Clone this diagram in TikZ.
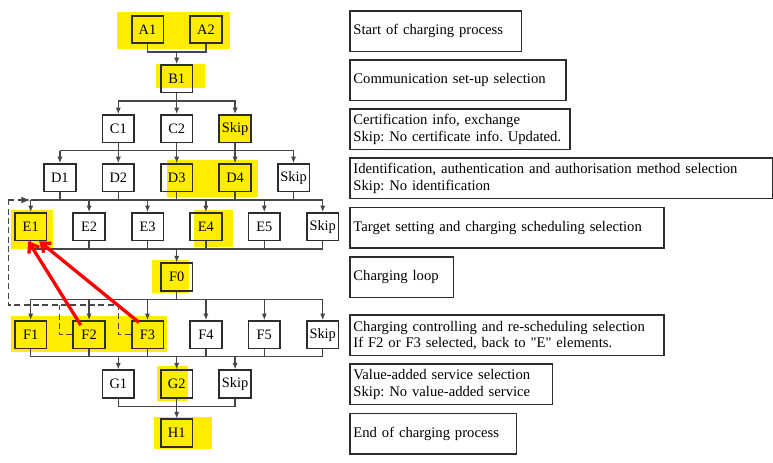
\documentclass[tikz,border=0pt]{standalone}
\usepackage{fontspec}
\setmainfont{Liberation Serif}
\usepackage{xcolor}
\usetikzlibrary{arrows.meta, calc, positioning}
\frenchspacing

\definecolor{hlyellow}{RGB}{255,237,0}
\definecolor{boxgray}{RGB}{45,45,45}
\definecolor{linegray}{RGB}{70,70,70}
\definecolor{jumpred}{RGB}{255,0,0}

\begin{document}
\begin{tikzpicture}[x=0.75pt, y=-0.75pt,
        stage/.style={draw=boxgray, line width=1.3pt, minimum width=23.8pt, minimum height=20.5pt, inner sep=0pt, font=\fontsize{10.8}{12}\selectfont},
        note/.style={draw=boxgray, line width=1.2pt, anchor=north west, minimum height=30.4pt, inner xsep=2.5pt, inner ysep=0pt, align=left, text width=#1, font=\fontsize{11}{12.4}\selectfont},
        hl/.style={fill=hlyellow},
        bus/.style={draw=linegray, line width=1pt},
        arr/.style={bus, -{Latex[length=5pt, width=4pt]}},
        back/.style={draw=linegray, line width=1pt, dash pattern=on 4.5pt off 2.5pt},
        jump/.style={draw=jumpred, line width=2.5pt, -{Straight Barb[length=6pt, width=9pt]}}]
    \useasboundingbox (0,0) rectangle (773,462);
    % highlights
    \fill[hl] (117,12) rectangle (230,48.7);
    \fill[hl] (156,64) rectangle (204.7,87.7);
    \fill[hl] (218.5,115) rectangle (251,142.5);
    \fill[hl] (166.7,160) rectangle (257.7,196.7);
    \fill[hl] (11,210) rectangle (53.3,249.3);
    \fill[hl] (194.3,210) rectangle (232.7,246.7);
    \fill[hl] (151.7,260) rectangle (189,292.7);
    \fill[hl] (11,316) rectangle (166.7,351.7);
    \fill[hl] (157.3,366) rectangle (187.7,401);
    \fill[hl] (154,417) rectangle (211.7,449);
    % stages
    \node[stage] (A1) at (147.5,29.5) {A1};
    \node[stage] (A2) at (206,29.5) {A2};
    \node[stage] (B1) at (176.7,78.8) {B1};
    \foreach \n/\x/\t in {C1/118.3/C1, C2/176.7/C2, C3/235.1/Skip}
        \node[stage] (\n) at (\x,128.7) {\t};
    \foreach \n/\x/\t in {D1/59.9/D1, D2/118.3/D2, D3/176.7/D3, D4/235.1/D4, D5/293.5/Skip}
        \node[stage] (\n) at (\x,177.8) {\t};
    \foreach \n/\x/\t in {E1/30.7/E1, E2/89.1/E2, E3/147.5/E3, E4/205.9/E4, E5/264.3/E5, E6/322.7/Skip}
        \node[stage] (\n) at (\x,226.7) {\t};
    \node[stage] (F0) at (176.7,277) {F0};
    \foreach \n/\x/\t in {F1/30.7/F1, F2/89.1/F2, F3/147.5/F3, F4/205.9/F4, F5/264.3/F5, F6/322.7/Skip}
        \node[stage] (\n) at (\x,334.7) {\t};
    \foreach \n/\x/\t in {G1/118.3/G1, G2/176.7/G2, G3/235.1/Skip}
        \node[stage] (\n) at (\x,384) {\t};
    \node[stage] (H1) at (176.7,433) {H1};
    % junctions
    \coordinate (ab) at (176.7,52);
    \coordinate (bc) at (176.7,101);
    \coordinate (cd) at (176.7,150.7);
    \coordinate (de) at (176.7,200);
    \coordinate (ef) at (176.7,249);
    \coordinate (ff) at (176.7,299.3);
    \coordinate (fg) at (176.7,356.7);
    \coordinate (gh) at (176.7,406.7);
    % A -> B -> C
    \draw[bus] (A1) |- (ab) -| (A2);
    \draw[arr] (ab) -- (B1);
    \draw[bus] (B1) -- (bc);
    \foreach \n in {C1,C2,C3}
        \draw[arr] (bc) -| (\n);
    % C -> D
    \foreach \n in {C1,C2,C3}
        \draw[bus] (\n) -- (\n |- cd);
    \draw[bus] (D1 |- cd) -- (D5 |- cd);
    \foreach \n in {D1,D2,D3,D4,D5}
        \draw[arr] (\n |- cd) -- (\n);
    % D -> E
    \foreach \n in {D1,D2,D3,D4,D5}
        \draw[bus] (\n) -- (\n |- de);
    \draw[bus] (E1 |- de) -- (E6 |- de);
    \foreach \n in {E1,E2,E3,E4,E5,E6}
        \draw[arr] (\n |- de) -- (\n);
    % E -> F0 -> F
    \foreach \n in {E1,E2,E3,E4,E5,E6}
        \draw[bus] (\n) -- (\n |- ef);
    \draw[bus] (E1 |- ef) -- (E6 |- ef);
    \draw[arr] (ef) -- (F0);
    \draw[bus] (F0) -- (ff);
    \draw[bus] (F1 |- ff) -- (F6 |- ff);
    \foreach \n in {F1,F2,F3,F4,F5,F6}
        \draw[arr] (\n |- ff) -- (\n);
    % F -> G -> H
    \foreach \n in {F1,F2,F3,F4,F5,F6}
        \draw[bus] (\n) -- (\n |- fg);
    \draw[bus] (F1 |- fg) -- (F6 |- fg);
    \foreach \n in {G1,G2,G3}
        \draw[arr] (\n |- fg) -- (\n);
    \draw[bus] (G1) |- (gh) -| (G3);
    \draw[bus] (G2) -- (gh);
    \draw[arr] (gh) -- (H1);
    % loop back to E
    \coordinate (r2) at (59.3,305);
    \coordinate (r3) at (118.3,305);
    \coordinate (rl) at (8.3,305);
    \coordinate (rt) at (8.3,200);
    \draw[back] (F2.west) -| (r2);
    \draw[back] (F3.west) -| (r3) -- (rl) -- (rt);
    \draw[back, -{Latex[length=7pt, width=5pt]}] (rt) -- (E1 |- de);
    % red jumps
    \coordinate (j2) at ([xshift=6.3pt, yshift=-3.7pt]F2.north west);
    \coordinate (j3) at ([xshift=6.2pt, yshift=-1.7pt]F3.north west);
    \coordinate (k2) at ([xshift=-1.8pt]E1.south);
    \coordinate (k3) at ([xshift=6.4pt]E1.south);
    \draw[jump] (j2) -- (k2);
    \draw[jump] (j3) -- (k3);
    % notes
    \node[note=123.5pt] (n1) at (349.3,10) {Start of charging process};
    \node[note=156.8pt] (n2) at (349.3,59.3) {Communication set-up selection};
    \node[note=160pt] (n3) at (349.3,108.3) {Certification info, exchange\\Skip: No certificate info. Updated.};
    \node[note=311.8pt] (n4) at (349.3,157.3) {Identification, authentication and authorisation method selection\\Skip: No identification};
    \node[note=230.5pt] (n5) at (349.3,206.7) {Target setting and charging scheduling selection};
    \node[note=72.6pt] (n6) at (349.3,256) {Charging loop};
    \node[note=230.5pt] (n7) at (349.3,314.3) {Charging controlling and re-scheduling selection\\If F2 or F3 selected, back to \textquotedbl E\textquotedbl\ elements.};
    \node[note=146.8pt] (n8) at (349.3,363.3) {Value-added service selection\\Skip: No value-added service};
    \node[note=119.8pt] (n9) at (349.3,412.7) {End of charging process};
\end{tikzpicture}
\end{document}
